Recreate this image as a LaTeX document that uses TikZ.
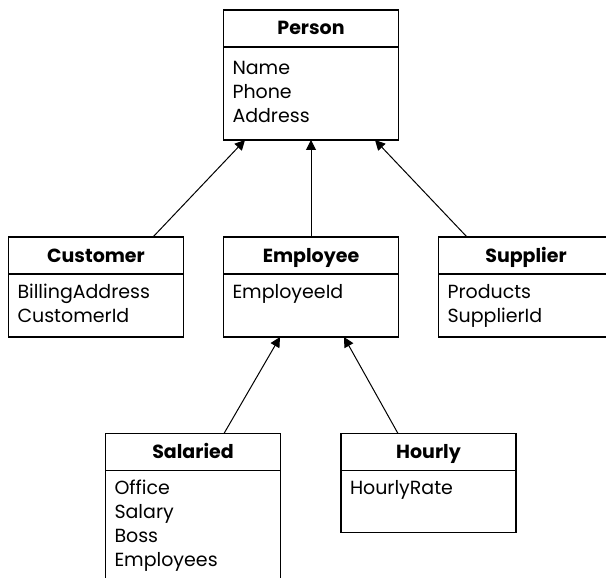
\documentclass[tikz,border=0pt]{standalone}
\usepackage{fontspec}
\setmainfont{Poppins}
\usepackage{tikz}
\usetikzlibrary{arrows.meta, positioning}

\begin{document}
\begin{tikzpicture}[x=1pt,y=-1pt,node distance=0pt]
 \tikzstyle{classhead}=[rectangle,draw=black,line width=1.5pt,outer sep=0pt,
   minimum width=175pt,minimum height=37pt,inner sep=0pt,
   text height=14pt,text depth=1pt,
   font=\fontsize{19}{24}\selectfont\bfseries]
 \tikzstyle{classbody}=[rectangle,draw=black,line width=1.5pt,outer sep=0pt,
   minimum width=175pt,text width=157pt,inner xsep=9pt,inner ysep=0pt,
   align=left,font=\fontsize{19}{24}\selectfont,
   execute at begin node=\strut,execute at end node=\strut]
 \tikzstyle{isa}=[line width=1pt,-{Triangle[length=10pt,width=10pt]}]
 \useasboundingbox (0,0) rectangle (606,578);
 \clip (0,0) rectangle (606,578);
 % base class
 \node (person) [classhead] at (311,28.5) {Person};
 \node (personbody) [classbody,below=of person,minimum height=93pt]
   {Name\\Phone\\Address};
 % subclasses
 \node (customer) [classhead] at (96,255.5) {Customer};
 \node (customerbody) [classbody,below=of customer,minimum height=63pt]
   {BillingAddress\\CustomerId};
 \node (employee) [classhead] at (311,255.5) {Employee};
 \node (employeebody) [classbody,below=of employee,minimum height=63pt]
   {EmployeeId\\~};
 \node (supplier) [classhead] at (526,255.5) {Supplier};
 \node (supplierbody) [classbody,below=of supplier,minimum height=63pt]
   {Products\\SupplierId};
 % employee kinds
 \node (salaried) [classhead] at (193,452) {Salaried};
 \node (salariedbody) [classbody,below=of salaried,minimum height=111pt]
   {Office\\Salary\\Boss\\Employees};
 \node (hourly) [classhead] at (428.5,452) {Hourly};
 \node (hourlybody) [classbody,below=of hourly,minimum height=62pt]
   {HourlyRate\\~};
 \draw[isa] ([xshift=57pt]customer.north) -- ([xshift=-66pt]personbody.south);
 \draw[isa] (employee.north) -- (personbody.south);
 \draw[isa] ([xshift=-59pt]supplier.north) -- ([xshift=64pt]personbody.south);
 \draw[isa] ([xshift=31pt]salaried.north) -- ([xshift=-31pt]employeebody.south);
 \draw[isa] ([xshift=-30.5pt]hourly.north) -- ([xshift=33pt]employeebody.south);
\end{tikzpicture}
\end{document}
